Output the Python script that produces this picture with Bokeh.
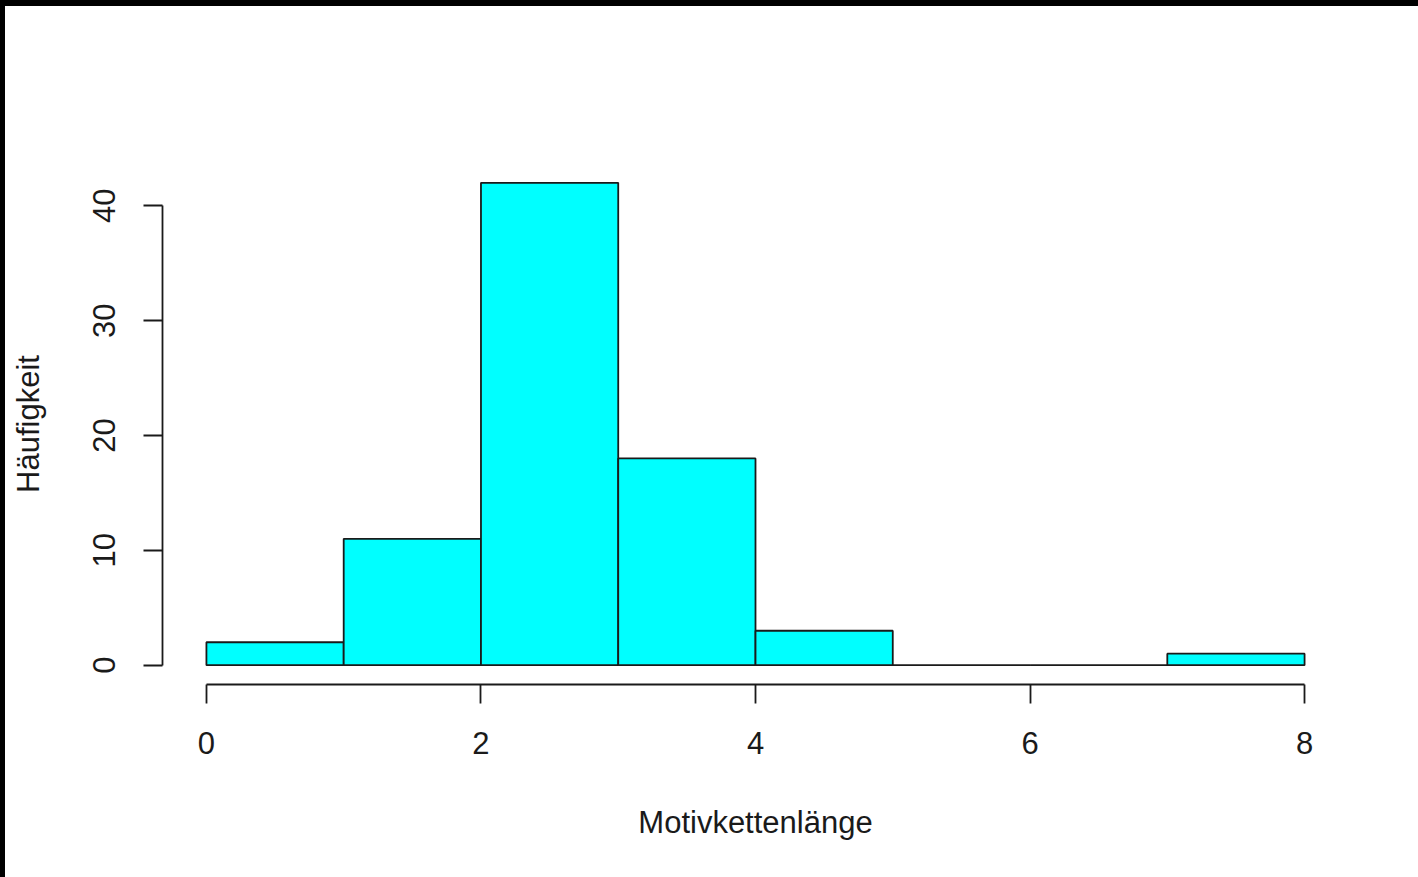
from bokeh.plotting import figure
from bokeh.models import Range1d, FixedTicker
from bokeh.embed import file_html
from bokeh.resources import INLINE

# Histogram data (bin edges and counts)
bin_left = [0, 1, 2, 3, 4, 5, 6, 7]
bin_right = [1, 2, 3, 4, 5, 6, 7, 8]
counts = [2, 11, 42, 18, 3, 0, 0, 1]
x_ticks = [0, 2, 4, 6, 8]
y_ticks = [0, 10, 20, 30, 40]
x_label = "Motivkettenlänge"
y_label = "Häufigkeit"

FONT = "Liberation Sans"
FS = "31px"
INK = "#1a1a1a"

p = figure(
    width=1418, height=877,
    x_range=Range1d(-0.32, 8.32), y_range=Range1d(-1.68, 43.68),
    output_backend="svg", toolbar_location=None,
    min_border_left=162, min_border_right=70,
    min_border_top=163, min_border_bottom=193,
)
p.outline_line_color = None
p.grid.visible = False
p.background_fill_color = "white"
p.border_fill_alpha = 0
# black screenshot edges (top and left) painted behind the transparent border area
p.styles = {
    "background-color": "white",
    "background-image": "linear-gradient(black, black), linear-gradient(black, black)",
    "background-size": "100% 6px, 5px 100%",
    "background-position": "0 0, 0 0",
    "background-repeat": "no-repeat",
}

p.quad(left=bin_left, right=bin_right, bottom=0, top=counts,
       fill_color="#00FFFF", line_color=INK, line_width=1.8)

for ax, ticks, lab in ((p.xaxis[0], x_ticks, x_label), (p.yaxis[0], y_ticks, y_label)):
    ax.ticker = FixedTicker(ticks=ticks)
    ax.bounds = (ticks[0], ticks[-1])
    ax.axis_line_color = INK
    ax.axis_line_width = 1.8
    ax.major_tick_line_color = INK
    ax.major_tick_line_width = 1.8
    ax.major_tick_out = 19
    ax.major_tick_in = 0
    ax.minor_tick_line_color = None
    ax.major_label_text_font = FONT
    ax.major_label_text_font_size = FS
    ax.major_label_text_color = INK
    ax.axis_label = lab
    ax.axis_label_text_font = FONT
    ax.axis_label_text_font_size = FS
    ax.axis_label_text_font_style = "normal"
    ax.axis_label_text_color = INK

p.xaxis.major_label_standoff = 28
p.xaxis.axis_label_standoff = 48
p.yaxis.major_label_orientation = "vertical"
p.yaxis.major_label_standoff = 28
p.yaxis.axis_label_standoff = 45

open("out.html", "w").write(file_html(p, INLINE))
